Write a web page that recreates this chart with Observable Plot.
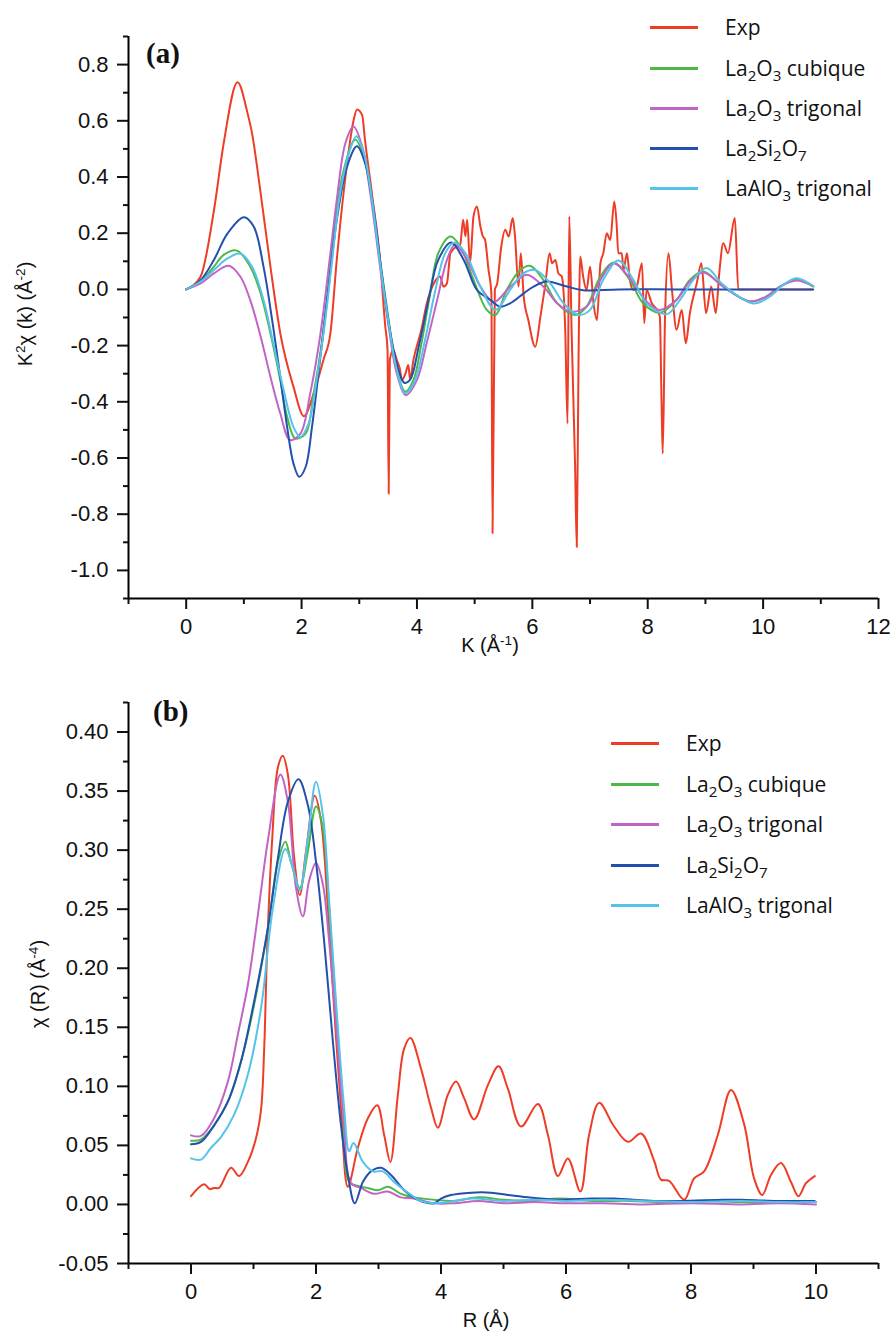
<!DOCTYPE html>
<html><head><meta charset="utf-8">
<script src="https://cdn.jsdelivr.net/npm/d3@7"></script>
<script src="https://cdn.jsdelivr.net/npm/@observablehq/plot@0.6"></script>
<style>
body{margin:0;background:#fff;}
#root{position:relative;width:893px;height:1333px;overflow:hidden;background:#fff;font-family:"Liberation Sans",Arial,sans-serif;color:#111;}
.panel{position:absolute;left:0;}
.lab{position:absolute;white-space:nowrap;line-height:1;}
.ytitle{transform:translate(-50%,-50%) rotate(-90deg);font-size:20px;}
.xtitle{transform:translate(-50%,-50%);font-size:20px;}
.ytitle sup,.xtitle sup{font-size:0.68em;vertical-align:0.55em;line-height:0;}
.plabel{font-family:"Liberation Serif","Times New Roman",serif;font-weight:bold;font-size:29px;}
.leg{position:absolute;display:flex;align-items:center;height:30px;font-family:"Open Sans",sans-serif;font-size:21px;white-space:nowrap;color:#111;}
.leg .ln{display:inline-block;width:48px;height:3px;margin-right:27px;}
.leg sub{font-size:0.72em;vertical-align:-0.3em;line-height:0;}
</style></head><body><div id="root"></div><script>
// ---------- series ----------
const seriesNames = ["Exp", "La2O3 cubique", "La2O3 trigonal", "La2Si2O7", "LaAlO3 trigonal"];
const seriesColors = ["#ee3d26", "#4cb848", "#c264c6", "#2350ad", "#55c3e8"];

// ---------- panel (a): K^2 chi(k) vs K ----------
const K_TICKS = [0, 2, 4, 6, 8, 10, 12];
const K_MINOR = [-1, 1, 3, 5, 7, 9, 11];
const A_YTICKS = [-1.0, -0.8, -0.6, -0.4, -0.2, 0.0, 0.2, 0.4, 0.6, 0.8];
const A_YMINOR = [-1.1, -0.9, -0.7, -0.5, -0.3, -0.1, 0.1, 0.3, 0.5, 0.7, 0.9];

const expA = [[0,0],[0.25,0.046],[0.48,0.28],[0.65,0.52],[0.89,0.737],[1.06,0.63],[1.14,0.557],[1.29,0.343],[1.46,0.081],[1.63,-0.155],[1.86,-0.347],[2.04,-0.451],[2.21,-0.37],[2.38,-0.25],[2.5,-0.156],[2.61,0.105],[2.76,0.40],[2.90,0.60],[2.96,0.64],[3.05,0.62],[3.10,0.53],[3.22,0.34],[3.36,0.105],[3.45,-0.13],[3.49,-0.216],[3.51,-0.727],[3.53,-0.25],[3.59,-0.216],[3.65,-0.251],[3.70,-0.28],[3.74,-0.322],[3.80,-0.30],[3.85,-0.269],[3.88,-0.32],[3.94,-0.25],[4.08,-0.14],[4.17,-0.05],[4.29,0.02],[4.40,0.046],[4.46,0.01],[4.52,0.022],[4.58,0.129],[4.69,0.153],[4.75,0.16],[4.80,0.248],[4.84,0.189],[4.87,0.248],[4.92,0.093],[4.98,0.26],[5.04,0.295],[5.10,0.224],[5.14,0.19],[5.18,0.177],[5.24,0.07],[5.29,-0.014],[5.31,-0.868],[5.35,0.0],[5.39,0.02],[5.46,0.15],[5.53,0.212],[5.59,0.188],[5.66,0.254],[5.70,0.188],[5.76,0.01],[5.80,0.129],[5.85,-0.025],[5.93,-0.109],[6.05,-0.204],[6.14,-0.097],[6.22,0.01],[6.30,0.129],[6.34,0.093],[6.40,0.105],[6.45,0.058],[6.51,0.046],[6.57,-0.144],[6.61,-0.477],[6.64,0.26],[6.68,-0.144],[6.74,-0.62],[6.77,-0.917],[6.80,-0.263],[6.83,0.117],[6.88,0.046],[6.94,-0.002],[7.00,0.081],[7.06,-0.049],[7.12,-0.109],[7.18,0.093],[7.23,0.129],[7.29,0.20],[7.35,0.176],[7.42,0.313],[7.46,0.236],[7.49,0.129],[7.55,0.129],[7.58,0.069],[7.64,0.129],[7.69,0.034],[7.75,-0.002],[7.81,0.01],[7.90,0.093],[7.94,-0.12],[7.98,-0.002],[8.07,-0.049],[8.16,-0.073],[8.21,-0.097],[8.24,-0.406],[8.26,-0.584],[8.30,-0.097],[8.36,0.129],[8.42,-0.002],[8.50,-0.144],[8.59,-0.073],[8.66,-0.192],[8.73,-0.085],[8.85,0.022],[8.93,0.093],[9.01,-0.085],[9.10,0.01],[9.18,-0.085],[9.24,0.058],[9.31,0.164],[9.39,0.129],[9.51,0.254],[9.57,0.0],[10.85,0.0]];
const cubiqueA = [[0,0],[0.25,0.028],[0.48,0.081],[0.65,0.123],[0.88,0.138],[1.11,0.081],[1.29,-0.014],[1.46,-0.156],[1.63,-0.322],[1.75,-0.453],[1.89,-0.53],[2.07,-0.513],[2.21,-0.37],[2.35,-0.19],[2.5,0.081],[2.61,0.283],[2.73,0.425],[2.93,0.533],[3.08,0.473],[3.22,0.319],[3.36,0.105],[3.51,-0.109],[3.65,-0.287],[3.80,-0.364],[3.94,-0.322],[4.08,-0.19],[4.23,-0.014],[4.37,0.129],[4.58,0.188],[4.75,0.153],[4.98,0.034],[5.21,-0.073],[5.36,-0.091],[5.56,0.0],[5.79,0.069],[5.96,0.084],[6.19,0.034],[6.43,-0.049],[6.74,-0.091],[6.94,-0.061],[7.18,0.046],[7.41,0.095],[7.69,0.034],[7.92,-0.049],[8.21,-0.083],[8.50,-0.037],[8.73,0.034],[8.96,0.064],[9.31,0.01],[9.77,-0.043],[10.06,-0.025],[10.29,0.01],[10.58,0.034],[10.87,0.01]];
const trigonalA = [[0,0],[0.25,0.021],[0.48,0.057],[0.74,0.084],[0.94,0.045],[1.11,-0.038],[1.29,-0.168],[1.46,-0.311],[1.63,-0.441],[1.80,-0.536],[1.98,-0.513],[2.15,-0.37],[2.32,-0.168],[2.5,0.129],[2.61,0.319],[2.76,0.521],[2.90,0.58],[3.05,0.509],[3.19,0.343],[3.36,0.081],[3.51,-0.133],[3.65,-0.299],[3.81,-0.376],[4.0,-0.322],[4.17,-0.19],[4.35,-0.038],[4.52,0.105],[4.66,0.159],[4.87,0.105],[5.10,0.01],[5.33,-0.045],[5.62,0.01],[5.90,0.052],[6.19,0.01],[6.43,-0.049],[6.65,-0.079],[6.94,-0.061],[7.18,0.034],[7.41,0.093],[7.69,0.04],[7.98,-0.043],[8.21,-0.073],[8.50,-0.037],[8.73,0.028],[8.96,0.06],[9.31,0.01],[9.77,-0.043],[10.06,-0.025],[10.29,0.01],[10.58,0.032],[10.87,0.012]];
const silicateA = [[0,0],[0.25,0.033],[0.48,0.105],[0.72,0.2],[1.0,0.257],[1.17,0.224],[1.34,0.081],[1.49,-0.109],[1.63,-0.311],[1.75,-0.49],[1.86,-0.62],[1.96,-0.667],[2.07,-0.632],[2.18,-0.49],[2.32,-0.251],[2.47,0.01],[2.61,0.247],[2.79,0.438],[2.96,0.509],[3.10,0.45],[3.25,0.283],[3.39,0.057],[3.54,-0.156],[3.68,-0.287],[3.78,-0.332],[3.88,-0.322],[4.03,-0.204],[4.20,-0.038],[4.37,0.105],[4.59,0.167],[4.81,0.105],[5.04,-0.002],[5.27,-0.037],[5.44,-0.061],[5.62,-0.049],[5.85,-0.014],[6.02,0.01],[6.25,0.028],[6.60,0.01],[6.88,-0.003],[7.5,0.0],[8.5,0.0],[9.5,0.0],[10.87,0.0]];
const aluminateA = [[0,0],[0.25,0.028],[0.48,0.069],[0.72,0.111],[0.94,0.127],[1.14,0.081],[1.34,-0.038],[1.51,-0.192],[1.69,-0.359],[1.86,-0.49],[1.98,-0.525],[2.12,-0.478],[2.27,-0.311],[2.41,-0.109],[2.53,0.105],[2.67,0.343],[2.82,0.485],[2.95,0.545],[3.08,0.485],[3.22,0.319],[3.36,0.093],[3.51,-0.121],[3.65,-0.287],[3.80,-0.37],[3.97,-0.322],[4.14,-0.18],[4.32,-0.002],[4.49,0.129],[4.65,0.167],[4.84,0.129],[5.10,0.01],[5.36,-0.073],[5.62,0.0],[5.85,0.058],[6.05,0.069],[6.31,0.022],[6.54,-0.049],[6.80,-0.091],[7.0,-0.073],[7.23,0.034],[7.49,0.103],[7.75,0.034],[7.98,-0.049],[8.33,-0.088],[8.56,-0.037],[8.79,0.034],[9.02,0.076],[9.31,0.016],[9.83,-0.05],[10.12,-0.025],[10.35,0.016],[10.58,0.04],[10.87,0.012]];

// ---------- panel (b): chi(R) vs R ----------
const R_TICKS = [0, 2, 4, 6, 8, 10];
const R_MINOR = [-1, 1, 3, 5, 7, 9, 11];
const B_YTICKS = [-0.05, 0.00, 0.05, 0.10, 0.15, 0.20, 0.25, 0.30, 0.35, 0.40];
const B_YMINOR = [-0.025, 0.025, 0.075, 0.125, 0.175, 0.225, 0.275, 0.325, 0.375, 0.425];

const expB = [[0,0.007],[0.21,0.017],[0.30,0.013],[0.37,0.014],[0.45,0.014],[0.64,0.031],[0.77,0.024],[0.91,0.036],[1.04,0.056],[1.12,0.08],[1.17,0.13],[1.22,0.22],[1.30,0.31],[1.39,0.37],[1.47,0.38],[1.55,0.364],[1.65,0.294],[1.74,0.262],[1.84,0.299],[1.98,0.346],[2.08,0.325],[2.19,0.251],[2.29,0.166],[2.40,0.082],[2.51,0.015],[2.67,0.048],[2.83,0.073],[2.98,0.084],[3.09,0.059],[3.19,0.036],[3.31,0.093],[3.41,0.132],[3.51,0.141],[3.68,0.115],[3.84,0.082],[3.95,0.065],[4.11,0.093],[4.24,0.104],[4.37,0.09],[4.53,0.072],[4.75,0.101],[4.92,0.117],[5.07,0.098],[5.28,0.066],[5.55,0.085],[5.71,0.059],[5.87,0.024],[6.03,0.039],[6.23,0.011],[6.37,0.059],[6.53,0.086],[6.77,0.066],[6.99,0.053],[7.20,0.060],[7.41,0.037],[7.52,0.021],[7.65,0.02],[7.89,0.004],[8.05,0.022],[8.21,0.028],[8.43,0.059],[8.64,0.097],[8.85,0.068],[9.01,0.022],[9.14,0.008],[9.28,0.025],[9.44,0.035],[9.6,0.019],[9.72,0.007],[9.84,0.018],[9.98,0.024]];
const cubiqueB = [[0,0.054],[0.16,0.055],[0.37,0.067],[0.59,0.087],[0.80,0.121],[1.01,0.169],[1.23,0.234],[1.39,0.29],[1.51,0.307],[1.60,0.29],[1.74,0.268],[1.87,0.299],[2.00,0.337],[2.11,0.319],[2.21,0.251],[2.32,0.166],[2.43,0.082],[2.53,0.019],[2.64,0.016],[2.83,0.014],[2.99,0.012],[3.15,0.015],[3.36,0.009],[3.57,0.006],[3.89,0.004],[4.2,0.003],[4.6,0.006],[5.0,0.004],[5.4,0.003],[5.9,0.005],[6.4,0.003],[7.0,0.003],[7.6,0.002],[8.2,0.003],[8.8,0.002],[9.4,0.002],[10,0.002]];
const trigonalB = [[0,0.0585],[0.16,0.058],[0.37,0.073],[0.59,0.104],[0.75,0.144],[0.91,0.186],[1.07,0.245],[1.23,0.308],[1.43,0.364],[1.55,0.341],[1.68,0.268],[1.79,0.244],[1.89,0.274],[2.0,0.289],[2.11,0.271],[2.21,0.223],[2.32,0.152],[2.45,0.068],[2.56,0.018],[2.72,0.014],[2.93,0.009],[3.15,0.011],[3.36,0.006],[3.57,0.005],[3.89,0.001],[4.2,0.001],[4.6,0.003],[5.0,0.001],[5.5,0.002],[6.0,0.001],[6.6,0.001],[7.2,0.0],[8.0,0.001],[8.8,0.0],[9.4,0.001],[10,0.0]];
const silicateB = [[0,0.051],[0.16,0.053],[0.37,0.067],[0.59,0.087],[0.80,0.121],[1.01,0.172],[1.23,0.234],[1.39,0.293],[1.55,0.341],[1.72,0.36],[1.87,0.338],[2.0,0.29],[2.13,0.223],[2.27,0.138],[2.40,0.067],[2.51,0.025],[2.62,0.001],[2.75,0.019],[2.88,0.028],[3.04,0.031],[3.2,0.025],[3.41,0.012],[3.63,0.004],[3.89,0.001],[4.0,0.005],[4.16,0.008],[4.48,0.010],[4.8,0.010],[5.07,0.008],[5.39,0.006],[5.87,0.004],[6.4,0.005],[6.77,0.005],[7.41,0.003],[7.84,0.003],[8.53,0.004],[8.8,0.004],[9.33,0.003],[9.98,0.003]];
const aluminateB = [[0,0.039],[0.16,0.038],[0.32,0.048],[0.48,0.057],[0.69,0.076],[0.91,0.110],[1.12,0.166],[1.31,0.251],[1.51,0.301],[1.63,0.285],[1.74,0.266],[1.87,0.310],[2.0,0.358],[2.11,0.330],[2.21,0.257],[2.32,0.172],[2.45,0.082],[2.53,0.045],[2.60,0.052],[2.75,0.036],[2.91,0.028],[3.07,0.028],[3.25,0.019],[3.47,0.010],[3.68,0.003],[3.89,0.001],[4.1,0.002],[4.5,0.005],[5.0,0.003],[5.5,0.004],[6.0,0.003],[6.6,0.004],[7.2,0.003],[8.0,0.002],[8.8,0.003],[9.4,0.002],[10,0.002]];

// ---------- drawing ----------
const root = document.getElementById("root");

function makePanel(cfg) {
  const series = cfg.series.map((pts, i) => ({pts, color: seriesColors[i], curve: cfg.curves[i]}));
  const marks = [];
  series.forEach(s => marks.push(Plot.line(s.pts, {x: d => d[0], y: d => d[1], stroke: s.color, strokeWidth: 2, curve: s.curve})));
  marks.push(
    Plot.ruleX([cfg.xDomain[0]], {stroke: "#000", strokeWidth: 2}),
    Plot.ruleY([cfg.yDomain[0]], {stroke: "#000", strokeWidth: 2}),
    Plot.axisY(cfg.yTicks, {tickSize: 11, tickPadding: 9, fontSize: 22, strokeWidth: 2, tickFormat: cfg.yFormat, label: null}),
    Plot.axisY(cfg.yMinor, {tickSize: 5, strokeWidth: 2, tickFormat: () => "", label: null}),
    Plot.axisX(cfg.xTicks, {tickSize: 11, tickPadding: 9, fontSize: 22, strokeWidth: 2, tickFormat: d => String(d), label: null}),
    Plot.axisX(cfg.xMinor, {tickSize: 6, strokeWidth: 2, tickFormat: () => "", label: null})
  );
  const svg = Plot.plot({
    width: 893, height: cfg.height,
    marginLeft: cfg.ml, marginRight: cfg.mr, marginTop: cfg.mt, marginBottom: cfg.mb,
    x: {domain: cfg.xDomain},
    y: {domain: cfg.yDomain},
    style: {fontFamily: "'Liberation Sans', Arial, sans-serif", color: "#111", background: "#fff", overflow: "visible"},
    marks
  });
  svg.classList.add("panel");
  svg.style.top = cfg.top + "px";
  root.appendChild(svg);
}

const curvesA = ["monotone-x", "catmull-rom", "catmull-rom", "catmull-rom", "catmull-rom"];
const curvesB = ["catmull-rom", "catmull-rom", "catmull-rom", "catmull-rom", "catmull-rom"];

makePanel({top: 0, height: 670, ml: 128, mr: 15, mt: 36, mb: 72,
  xDomain: [-1, 12], yDomain: [-1.1, 0.9],
  xTicks: K_TICKS, xMinor: K_MINOR, yTicks: A_YTICKS, yMinor: A_YMINOR,
  yFormat: d => d.toFixed(1),
  series: [expA, cubiqueA, trigonalA, silicateA, aluminateA], curves: curvesA});

makePanel({top: 670, height: 663, ml: 128, mr: 15, mt: 32, mb: 70,
  xDomain: [-1, 11], yDomain: [-0.05, 0.425],
  xTicks: R_TICKS, xMinor: R_MINOR, yTicks: B_YTICKS, yMinor: B_YMINOR,
  yFormat: d => d.toFixed(2),
  series: [expB, cubiqueB, trigonalB, silicateB, aluminateB], curves: curvesB});

// ---------- text overlays ----------
function addLabel(html, cls, x, y) {
  const el = document.createElement("div");
  el.className = "lab " + cls;
  el.innerHTML = html;
  el.style.left = x + "px";
  el.style.top = y + "px";
  root.appendChild(el);
  return el;
}
addLabel("K<sup>2</sup>χ (k) (Å<sup>-2</sup>)", "ytitle", 25, 314);
addLabel("K (Å<sup>-1</sup>)", "xtitle", 490, 645);
addLabel("χ (R) (Å<sup>-4</sup>)", "ytitle", 38, 984);
addLabel("R (Å)", "xtitle", 486, 1320);
addLabel("(a)", "plabel", 146, 39);
addLabel("(b)", "plabel", 153, 697);

function chem(name) { return name.replace(/([A-Za-z])(\d)/g, "$1<sub>$2</sub>"); }
function addLegend(x, ys) {
  seriesNames.forEach((n, i) => {
    const row = document.createElement("div");
    row.className = "leg";
    row.style.left = x + "px";
    row.style.top = (ys[i] - 15) + "px";
    row.innerHTML = `<span class="ln" style="background:${seriesColors[i]}"></span><span>${chem(n)}</span>`;
    root.appendChild(row);
  });
}
addLegend(650, [27, 68, 108, 148, 188]);
addLegend(611, [743, 784, 824, 865, 905]);
</script></body></html>
